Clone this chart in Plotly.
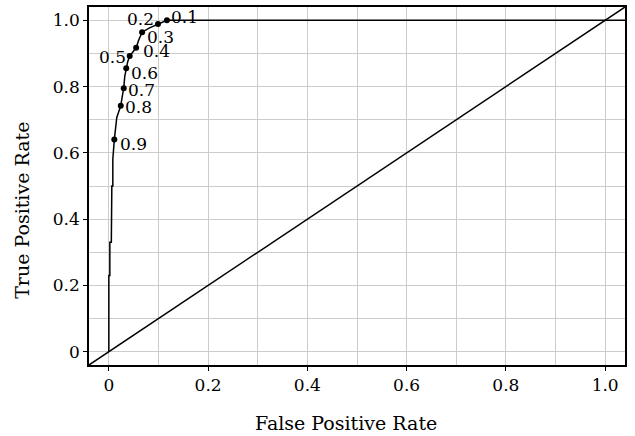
import plotly.graph_objects as go

# ROC curve
fpr = [0.0, 0.0, 0.002, 0.002, 0.005, 0.005, 0.006, 0.006, 0.008, 0.008,
       0.011, 0.013, 0.016, 0.019, 0.024, 0.027, 0.030, 0.032, 0.035, 0.038,
       0.042, 0.048, 0.055, 0.060, 0.067, 0.082, 0.099, 0.117, 1.04]
tpr = [0.0, 0.23, 0.23, 0.33, 0.33, 0.39, 0.39, 0.50, 0.50, 0.58,
       0.64, 0.677, 0.707, 0.72, 0.742, 0.77, 0.795, 0.83, 0.855, 0.875,
       0.892, 0.905, 0.917, 0.94, 0.964, 0.977, 0.989, 1.0, 1.0]

# threshold markers
thr_labels = ["0.1", "0.2", "0.3", "0.4", "0.5", "0.6", "0.7", "0.8", "0.9"]
thr_fpr = [0.117, 0.099, 0.067, 0.055, 0.042, 0.035, 0.030, 0.024, 0.011]
thr_tpr = [1.0, 0.989, 0.964, 0.917, 0.892, 0.855, 0.795, 0.742, 0.640]

diag = [-0.04, 1.04]

tick_vals = [0, 0.2, 0.4, 0.6, 0.8, 1.0]
tick_text = ["0", "0.2", "0.4", "0.6", "0.8", "1.0"]

x_title = "False Positive Rate"
y_title = "True Positive Rate"

# label placement (anchor, xshift, yshift) in pixels
label_style = [("left", 2, 3), ("right", -2, 5), ("left", 3, -5), ("left", 5, -3),
               ("right", -2, -1), ("left", 3, -5), ("left", 2, -2), ("left", 2, -1),
               ("left", 4, -4)]

FONT = "DejaVu Serif"

fig = go.Figure()
fig.add_trace(go.Scatter(x=diag, y=diag, mode="lines",
                         line=dict(color="black", width=1.5), hoverinfo="skip"))
fig.add_trace(go.Scatter(x=fpr, y=tpr, mode="lines",
                         line=dict(color="black", width=1.5)))
fig.add_trace(go.Scatter(x=thr_fpr, y=thr_tpr, mode="markers",
                         marker=dict(color="black", size=6)))

for lab, xv, yv, (anc, xs, ys) in zip(thr_labels, thr_fpr, thr_tpr, label_style):
    fig.add_annotation(x=xv, y=yv, text=lab, showarrow=False, xanchor=anc,
                       yanchor="middle", xshift=xs, yshift=ys,
                       font=dict(family=FONT, size=17, color="black"))

# axis titles as annotations (placed as in the reference)
fig.add_annotation(xref="paper", yref="paper", x=0.4795, y=-0.161, text=x_title,
                   showarrow=False, xanchor="center", yanchor="middle",
                   font=dict(family=FONT, size=19, color="black"))
fig.add_annotation(xref="paper", yref="paper", x=-0.125, y=0.4306, text=y_title,
                   showarrow=False, xanchor="center", yanchor="middle", textangle=-90,
                   font=dict(family=FONT, size=19, color="black"))

axis_common = dict(
    range=[-0.04, 1.04], tickvals=tick_vals, ticktext=tick_text,
    ticks="outside", ticklen=4, tickwidth=1, tickcolor="black",
    showline=True, linecolor="black", linewidth=1.5, mirror=True,
    showgrid=True, gridcolor="#cccccc", gridwidth=1, zeroline=False,
    minor=dict(dtick=0.1, tick0=0, showgrid=True, gridcolor="#cccccc", gridwidth=1, ticks=""),
    tickfont=dict(family=FONT, size=17, color="black"),
)

fig.update_layout(
    width=635, height=436,
    margin=dict(l=89, r=10, t=5, b=71),
    plot_bgcolor="white", paper_bgcolor="white",
    showlegend=False,
    xaxis=dict(**axis_common),
    yaxis=dict(**axis_common),
)

fig.write_html("out.html")
